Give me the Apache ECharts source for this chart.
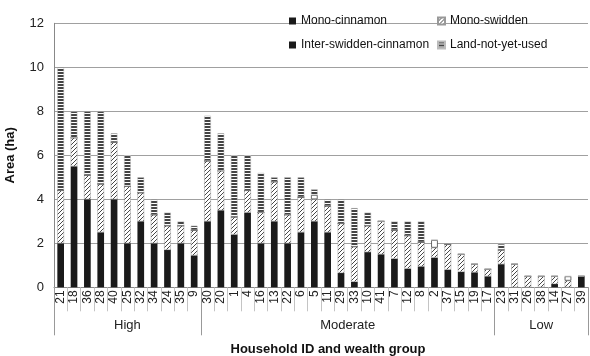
<!DOCTYPE html>
<html>
<head>
<meta charset="utf-8">
<script src="https://cdn.jsdelivr.net/npm/echarts@6/dist/echarts.min.js"></script>
<style>
  html, body { margin: 0; padding: 0; background: #fff; }
  #chart { width: 590px; height: 356px; }
</style>
</head>
<body>
<div id="chart"></div>
<script>
// Household IDs, ordered by wealth group
const households = ['21','18','36','28','40','25','32','34','24','35','9',
  '30','20','1','4','16','13','22','6','5','11','29','33','10','41','7','12','8','2','37','15','19','17',
  '23','31','26','38','14','27','39'];

// Wealth groups: name and the number of households in each
const groupNames = ['High', 'Moderate', 'Low'];
const groupSizes = [11, 22, 7];

// Land area per household (ha)
const monoCinnamon = [2.0,5.5,4.0,2.5,4.0,2.0,3.0,2.0,1.7,2.0,1.45,
  3.0,3.5,2.4,3.4,2.0,3.0,2.0,2.5,3.0,2.5,0.65,0.25,1.6,1.5,1.3,0.85,0.95,1.35,0.8,0.7,0.68,0.5,
  1.05,0,0,0,0.15,0,0.5];
const monoSwidden = [2.4,1.3,1.1,2.2,2.6,2.6,1.3,1.3,1.1,0.8,1.15,
  2.75,1.8,0.8,1.0,1.4,1.8,1.3,1.6,1.0,1.2,2.25,1.6,1.2,1.5,1.3,1.5,1.1,0.45,1.15,0.8,0.37,0.32,
  0.65,1.05,0.5,0.5,0.35,0.3,0];
const interSwiddenCinnamon = [0,0,0,0,0,0,0,0,0,0,0,
  0,0,0,0,0,0,0,0,0.2,0,0,0,0,0,0,0,0,0.35,0,0,0,0,
  0,0,0,0,0,0.2,0];
const landNotYetUsed = [5.6,1.2,2.9,3.3,0.4,1.4,0.7,0.7,0.6,0.2,0.2,
  2.05,1.7,2.8,1.6,1.8,0.2,1.7,0.9,0.25,0.3,1.1,1.75,0.6,0,0.4,0.65,0.95,0,0.05,0,0,0,
  0.27,0,0,0,0,0,0];

// Y axis ticks
const yMin = 0, yMax = 12, yStep = 2;

// Fill patterns
function hatchPattern() {
  const c = document.createElement('canvas');
  c.width = 4; c.height = 4;
  const g = c.getContext('2d');
  g.fillStyle = '#fff'; g.fillRect(0, 0, 4, 4);
  g.strokeStyle = '#333'; g.lineWidth = 0.9;
  g.beginPath();
  g.moveTo(0, 4); g.lineTo(4, 0);
  g.moveTo(-1, 1); g.lineTo(1, -1);
  g.moveTo(3, 5); g.lineTo(5, 3);
  g.stroke();
  return { image: c, repeat: 'repeat' };
}
function stripePattern() {
  const c = document.createElement('canvas');
  c.width = 4; c.height = 3;
  const g = c.getContext('2d');
  g.fillStyle = '#fff'; g.fillRect(0, 0, 4, 3);
  g.fillStyle = '#444'; g.fillRect(0, 0, 4, 2);
  return { image: c, repeat: 'repeat' };
}

// Group boundaries and centres on a 0..N scale
const bounds = [0];
groupSizes.forEach(n => bounds.push(bounds[bounds.length - 1] + n));
const centres = groupSizes.map((n, i) => bounds[i] + n / 2);

const font = 'Liberation Sans, Arial, sans-serif';
const chart = echarts.init(document.getElementById('chart'), null, { renderer: 'canvas' });

const seriesDefs = [
  { name: 'Mono-cinnamon', data: monoCinnamon, style: { color: '#1a1a1a' } },
  { name: 'Mono-swidden', data: monoSwidden, style: { color: hatchPattern(), borderColor: '#999', borderWidth: 0.5 } },
  { name: 'Inter-swidden-cinnamon', data: interSwiddenCinnamon, style: { color: '#fff', borderColor: '#444', borderWidth: 0.8 } },
  { name: 'Land-not-yet-used', data: landNotYetUsed, style: { color: stripePattern(), borderColor: '#bbb', borderWidth: 0.5 } }
];

const legendText = { fontFamily: font, fontSize: 12, color: '#111' };

chart.setOption({
  animation: false,
  backgroundColor: '#fff',
  textStyle: { fontFamily: font },
  grid: { left: 54, right: 2, top: 23.3, bottom: 68.7, containLabel: false, outerBoundsMode: 'none' },
  legend: [
    {
      left: 284, top: 10, orient: 'vertical', itemGap: 12,
      itemWidth: 7, itemHeight: 7, textStyle: legendText,
      data: [
        { name: 'Mono-cinnamon', icon: 'rect' },
        { name: 'Inter-swidden-cinnamon', icon: 'rect', itemStyle: { color: '#1a1a1a', borderWidth: 0 } }
      ]
    },
    {
      left: 432, top: 10, orient: 'vertical', itemGap: 12,
      itemWidth: 7, itemHeight: 7, textStyle: legendText,
      data: [
        { name: 'Mono-swidden', icon: 'rect' },
        { name: 'Land-not-yet-used', icon: 'rect' }
      ]
    }
  ],
  xAxis: [
    {
      type: 'category',
      data: households,
      axisLine: { show: true, lineStyle: { color: '#888', width: 1 } },
      axisTick: { show: true, length: 24, lineStyle: { color: '#c4c4c4', width: 1 } },
      axisLabel: { rotate: 90, fontSize: 12, color: '#222', margin: 3, fontFamily: font, interval: 0 }
    },
    {
      type: 'value',
      min: 0, max: households.length,
      position: 'bottom',
      axisLine: { show: false },
      splitLine: { show: false },
      axisTick: { show: true, customValues: bounds, length: 48, lineStyle: { color: '#999', width: 1 } },
      axisLabel: {
        customValues: centres,
        margin: 32, fontSize: 13, color: '#222', fontFamily: font,
        formatter: v => groupNames[centres.indexOf(v)] || ''
      },
      name: 'Household ID and wealth group',
      nameLocation: 'middle', nameGap: 56,
      nameTextStyle: { fontSize: 13, fontWeight: 'bold', color: '#111', fontFamily: font, padding: [0, 0, 0, 14] }
    }
  ],
  yAxis: {
    type: 'value',
    min: yMin, max: yMax, interval: yStep,
    axisLine: { show: true, lineStyle: { color: '#888' } },
    axisTick: { show: false },
    splitLine: { lineStyle: { color: '#a0a0a0', width: 1 } },
    axisLabel: { fontSize: 13, color: '#222', margin: 10, fontFamily: font },
    name: 'Area (ha)', nameLocation: 'middle', nameGap: 37,
    nameTextStyle: { fontSize: 13, fontWeight: 'bold', color: '#111', fontFamily: font }
  },
  series: seriesDefs.map(s => ({
    name: s.name,
    type: 'bar',
    stack: 'area',
    xAxisIndex: 0,
    barCategoryGap: '50%',
    data: s.data,
    itemStyle: s.style,
    emphasis: { disabled: true }
  }))
});
</script>
</body>
</html>
